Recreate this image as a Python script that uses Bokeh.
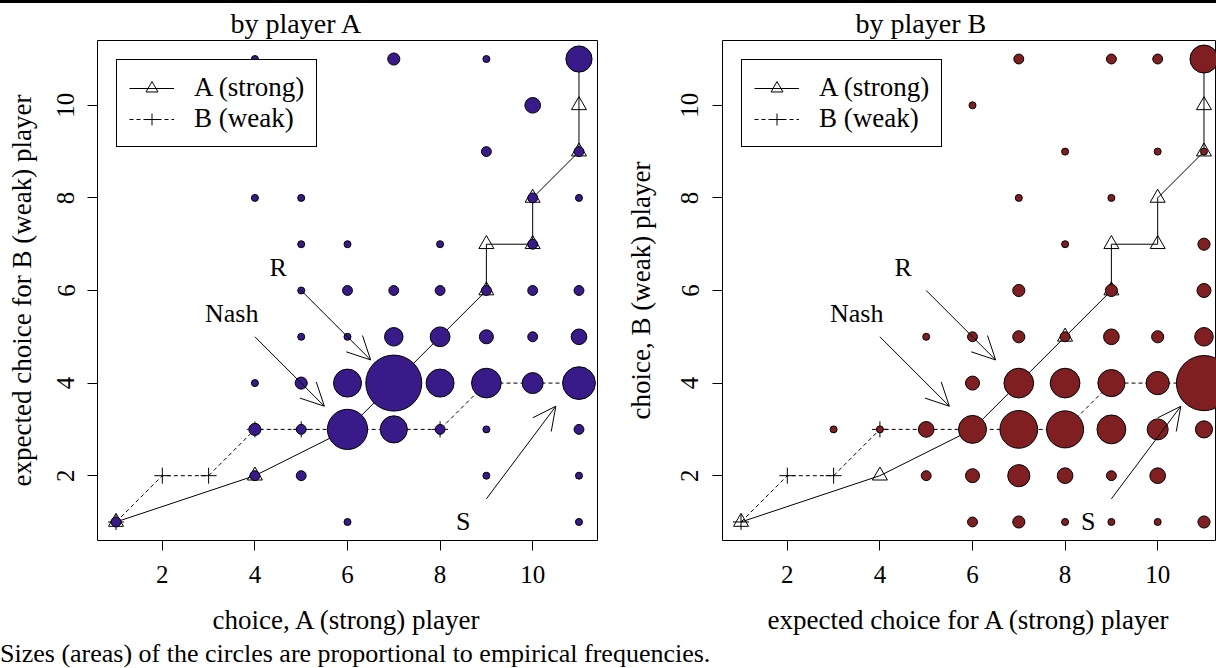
import math
from bokeh.plotting import figure
from bokeh.models import (Range1d, Label, Arrow, OpenHead, Legend, LegendItem,
                          FixedTicker, Div, ColumnDataSource)
from bokeh.layouts import row, column
from bokeh.embed import file_html
from bokeh.resources import INLINE

# ---------------- data ----------------
# Panel "by player A": x = choice of A (strong), y = expected choice for B (weak)
pa_x = [1, 6, 11,
        4, 5, 9, 11,
        4, 5, 6, 7, 8, 9, 11,
        4, 5, 6, 7, 8, 9, 10, 11,
        5, 6, 7, 8, 9, 10, 11,
        5, 6, 7, 8, 9, 10, 11,
        5, 6, 8, 10,
        4, 5, 10, 11,
        9, 11,
        10,
        4, 7, 9, 11]
pa_y = [1, 1, 1,
        2, 2, 2, 2,
        3, 3, 3, 3, 3, 3, 3,
        4, 4, 4, 4, 4, 4, 4, 4,
        5, 5, 5, 5, 5, 5, 5,
        6, 6, 6, 6, 6, 6, 6,
        7, 7, 7, 7,
        8, 8, 8, 8,
        9, 9,
        10,
        11, 11, 11, 11]
pa_freq = [2, 1, 1,
           2, 2, 1, 1,
           3, 2, 33, 15, 2, 1, 2,
           1, 3, 16, 64, 16, 18, 9, 22,
           1, 1, 7, 8, 4, 2, 5,
           1, 2, 2, 2, 2, 2, 2,
           1, 1, 1, 2,
           1, 1, 2, 1,
           2, 2,
           5,
           1, 3, 1, 14]

# Panel "by player B": x = expected choice for A (strong), y = choice of B (weak)
pb_x = [6, 7, 8, 9, 10, 11,
        5, 6, 7, 8, 9, 10,
        3, 4, 5, 6, 7, 8, 9, 10, 11,
        6, 7, 8, 9, 10, 11,
        5, 6, 7, 8, 9, 10, 11,
        7, 9, 11,
        8, 11,
        7, 9,
        8, 10, 11,
        6,
        7, 9, 10, 11]
pb_y = [1, 1, 1, 1, 1, 1,
        2, 2, 2, 2, 2, 2,
        3, 3, 3, 3, 3, 3, 3, 3, 3,
        4, 4, 4, 4, 4, 4,
        5, 5, 5, 5, 5, 5, 5,
        6, 6, 6,
        7, 7,
        8, 8,
        9, 9, 9,
        10,
        11, 11, 11, 11]
pb_freq = [2, 3, 1, 1, 1, 3,
           2, 4, 10, 5, 2, 5,
           1, 1, 5, 16, 29, 28, 17, 9, 6,
           4, 18, 18, 15, 11, 62,
           1, 2, 3, 2, 5, 3, 7,
           3, 3, 4,
           1, 3,
           1, 1,
           1, 1, 1,
           1,
           2, 2, 2, 16]

# Response paths
strong_x = [1, 4, 6, 7, 8, 9, 9, 10, 10, 11, 11, 11]
strong_y = [1, 2, 3, 4, 5, 6, 7, 7, 8, 9, 10, 11]
weak_x = [1, 2, 3, 4, 5, 6, 7, 8, 9, 10, 11]
weak_y = [1, 2, 2, 3, 3, 3, 3, 3, 4, 4, 4]

ticks = [2, 4, 6, 8, 10]
legend_labels = ["A (strong)", "B (weak)"]

ann_text = ["R", "Nash", "S"]
ann_x = [4.5, 3.5, 8.5]
ann_y = [6.5, 5.5, 1.0]
arr_x0 = [5.0, 4.0, 9.0]
arr_y0 = [6.0, 5.0, 1.5]
arr_x1 = [6.5, 5.5, 10.5]
arr_y1 = [4.5, 3.5, 3.5]

caption = "Sizes (areas) of the circles are proportional to empirical frequencies."

# ---------------- styling ----------------
FONT = "Liberation Serif"
PX_PER_UNIT = 500 / 10.8
FIG_H = 637


def panel(xs, ys, fr, color, width, border_left, frame_w, title_offset, title,
          xlab, ylab, tick_standoff_y, label_standoff_y):
    x_end = 0.6 + frame_w / PX_PER_UNIT
    p = figure(width=width, height=FIG_H,
               x_range=Range1d(0.6, x_end), y_range=Range1d(0.6, 11.4),
               output_backend="svg", toolbar_location=None,
               min_border_left=border_left,
               min_border_right=width - border_left - frame_w,
               min_border_top=37, min_border_bottom=100)
    p.grid.visible = False
    p.outline_line_color = "black"
    p.outline_line_alpha = 1
    p.outline_line_width = 1
    p.background_fill_color = "white"
    p.border_fill_color = "white"

    p.title.text = title
    p.title.align = "left"
    p.title.offset = title_offset
    p.title.standoff = 4
    p.title.text_font = FONT
    p.title.text_font_size = "28px"
    p.title.text_font_style = "normal"
    p.title.text_color = "black"

    for ax in (p.xaxis[0], p.yaxis[0]):
        ax.ticker = FixedTicker(ticks=ticks)
        ax.major_tick_in = 0
        ax.major_tick_out = 10
        ax.minor_tick_line_color = None
        ax.axis_line_color = None
        ax.major_tick_line_color = "black"
        ax.major_label_text_font = FONT
        ax.major_label_text_font_size = "25px"
        ax.major_label_text_color = "black"
        ax.axis_label_text_font = FONT
        ax.axis_label_text_font_size = "27px"
        ax.axis_label_text_font_style = "normal"
        ax.axis_label_text_color = "black"
    p.xaxis.major_label_standoff = 15
    p.xaxis.axis_label = xlab
    p.xaxis.axis_label_standoff = 19
    p.yaxis.major_label_orientation = "parallel"
    p.yaxis.major_label_standoff = tick_standoff_y
    p.yaxis.axis_label = ylab
    p.yaxis.axis_label_standoff = label_standoff_y

    lA = p.line(strong_x, strong_y, line_color="black", line_width=1)
    mA = p.scatter(strong_x, strong_y, marker="triangle", size=15,
                   fill_alpha=0, line_color="black", line_width=1)
    lB = p.line(weak_x, weak_y, line_color="black", line_width=1, line_dash="4 3")
    mB = p.scatter(weak_x, weak_y, marker="cross", size=16,
                   line_color="black", line_width=1)

    src = ColumnDataSource(dict(x=xs, y=ys, size=[7 * math.sqrt(f) for f in fr]))
    p.scatter("x", "y", size="size", source=src, marker="circle",
              fill_color=color, line_color="black", line_width=1)

    legend = Legend(items=[LegendItem(label=legend_labels[0], renderers=[lA, mA]),
                           LegendItem(label=legend_labels[1], renderers=[lB, mB])],
                    location="top_left", margin=19, padding=12, spacing=0,
                    glyph_width=45, glyph_height=30, label_height=30,
                    label_standoff=20, label_text_font=FONT,
                    label_text_font_size="27px", label_text_color="black",
                    border_line_color="black", border_line_width=1,
                    border_line_alpha=1, background_fill_color="white",
                    background_fill_alpha=1)
    p.add_layout(legend)

    for t, x, y in zip(ann_text, ann_x, ann_y):
        p.add_layout(Label(x=x, y=y, text=t, text_align="center",
                           text_baseline="middle", text_font=FONT,
                           text_font_size="26px", text_color="black"))
    for x0, y0, x1, y1 in zip(arr_x0, arr_y0, arr_x1, arr_y1):
        p.add_layout(Arrow(end=OpenHead(size=23, line_width=1, line_color="black"),
                           x_start=x0, y_start=y0, x_end=x1, y_end=y1,
                           line_color="black", line_width=1))
    return p


p1 = panel(pa_x, pa_y, pa_freq, "#381A88", 622, 97, 500, 133, "by player A",
           "choice, A (strong) player", "expected choice for B (weak) player", 13, 18)
p2 = panel(pb_x, pb_y, pb_freq, "#7F1F22", 594, 100, 494, 133, "by player B",
           "expected choice for A (strong) player", "choice, B (weak) player", 14, 23)

topline = Div(text="", width=1216, height=3, margin=0,
              styles={"background-color": "black"})

cap = Div(text=('<div style="font-family:\'Liberation Serif\';font-size:26px;'
                'line-height:28px;white-space:nowrap;color:black">'
                + caption + '</div>'),
          width=1216, height=28, margin=0)

layout = column(topline, row(p1, p2), cap)
open("out.html", "w").write(file_html(layout, INLINE))
